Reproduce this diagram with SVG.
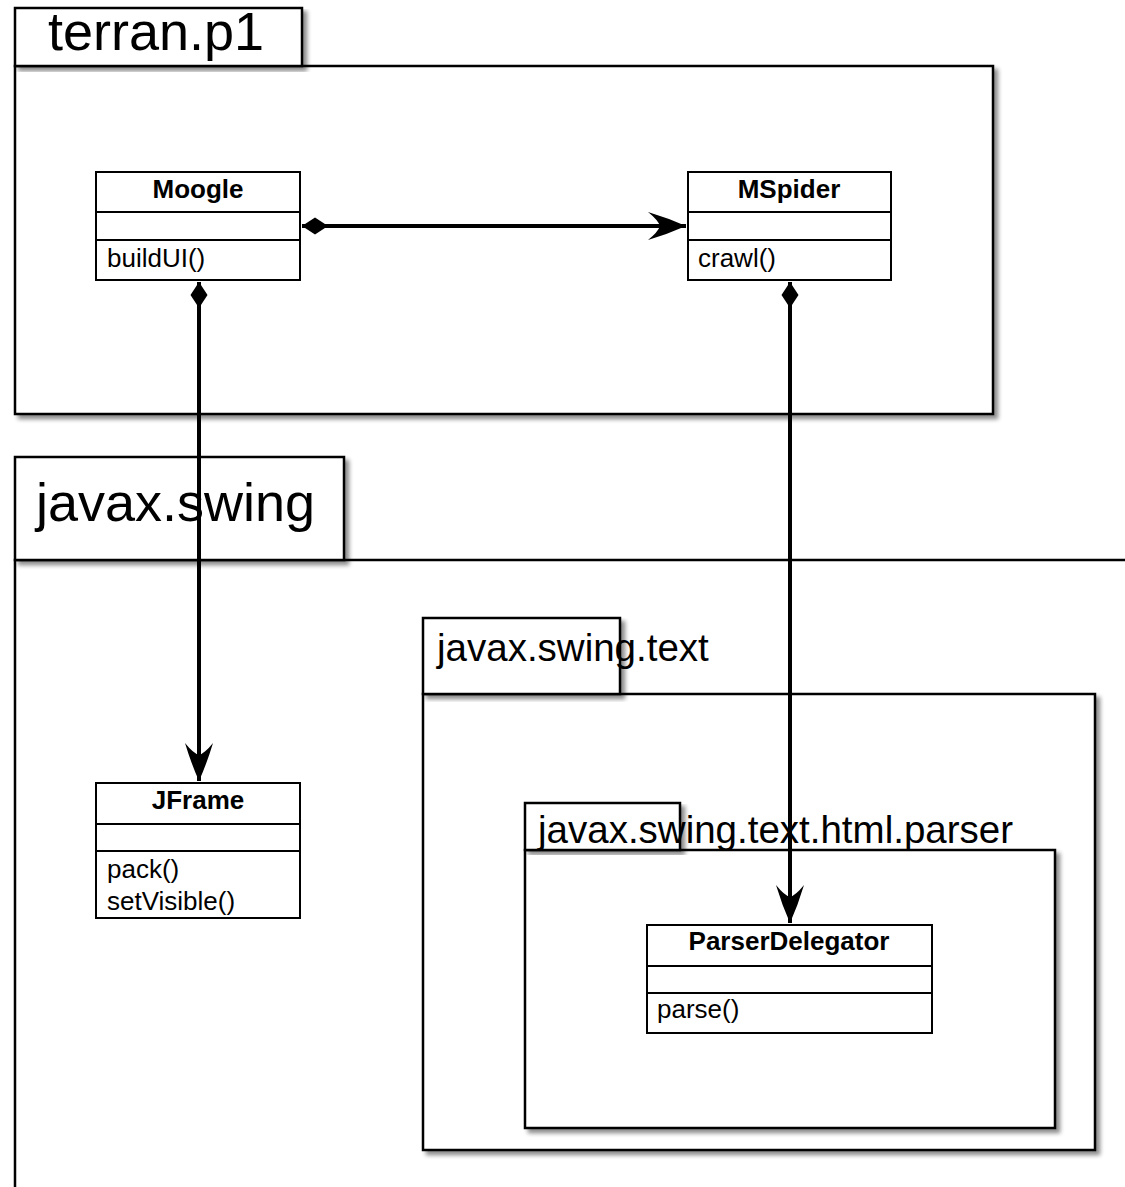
<svg xmlns="http://www.w3.org/2000/svg" width="1125" height="1187" viewBox="0 0 1125 1187">
<defs>
<style>
.pkg{fill:#fff;stroke:#000;stroke-width:2.5}
.cls{fill:#fff;stroke:#000;stroke-width:2}
.sep{stroke:#000;stroke-width:2}
.big{font-family:"Liberation Sans",Arial,sans-serif;font-size:54px;fill:#000}
.mid{font-family:"Liberation Sans",Arial,sans-serif;font-size:38.5px;fill:#000}
.name{font-family:"Liberation Sans",Arial,sans-serif;font-size:26px;font-weight:bold;fill:#000;text-anchor:middle}
.op{font-family:"Liberation Sans",Arial,sans-serif;font-size:26px;fill:#000}
.conn{fill:none;stroke:#000;stroke-width:4}
</style>
<filter id="sh" x="-5%" y="-5%" width="115%" height="115%">
<feGaussianBlur in="SourceAlpha" stdDeviation="2"/>
<feOffset dx="4" dy="4" result="b"/>
<feComponentTransfer><feFuncA type="linear" slope="0.45"/></feComponentTransfer>
<feMerge><feMergeNode/><feMergeNode in="SourceGraphic"/></feMerge>
</filter>
<marker id="dia" viewBox="-1 -10 30 20" refX="0" refY="0" markerWidth="30" markerHeight="20" markerUnits="userSpaceOnUse" orient="auto" overflow="visible">
<path d="M0,0 L13,-8.5 L26,0 L13,8.5 Z" fill="#000"/>
</marker>
<marker id="arr" viewBox="-40 -16 42 32" refX="0" refY="0" markerWidth="42" markerHeight="32" markerUnits="userSpaceOnUse" orient="auto" overflow="visible">
<path d="M0,0 Q-18,-8 -38,-14 Q-28,-6 -26,0 Q-28,6 -38,14 Q-18,8 0,0 Z" fill="#000"/>
</marker>
</defs>
<rect width="1125" height="1187" fill="#fff"/>

<g id="pkg-terran-p1">
<rect class="pkg" x="15" y="66" width="978" height="348" filter="url(#sh)"/>
<rect class="pkg" x="15" y="8" width="287" height="58" filter="url(#sh)"/>
<text class="big" x="48" y="50">terran.p1</text>
</g>

<g id="pkg-javax-swing">
<rect class="pkg" x="15" y="560" width="1200" height="700" filter="url(#sh)"/>
<rect class="pkg" x="15" y="457" width="329" height="103" filter="url(#sh)"/>
<text class="big" x="36" y="521">javax.swing</text>
</g>

<g id="pkg-javax-swing-text">
<rect class="pkg" x="423" y="694" width="672" height="456" filter="url(#sh)"/>
<rect class="pkg" x="423" y="618" width="197" height="76" filter="url(#sh)"/>
<text class="mid" x="437" y="661">javax.swing.text</text>
</g>

<g id="pkg-javax-swing-text-html-parser">
<rect class="pkg" x="525" y="850" width="530" height="278" filter="url(#sh)"/>
<rect class="pkg" x="525" y="803" width="155" height="47" filter="url(#sh)"/>
<text class="mid" x="538" y="843">javax.swing.text.html.parser</text>
</g>

<g id="cls-Moogle">
<rect class="cls" x="96" y="172" width="204" height="108"/>
<line class="sep" x1="96" y1="212" x2="300" y2="212"/>
<line class="sep" x1="96" y1="240" x2="300" y2="240"/>
<text class="name" x="198" y="198">Moogle</text>
<text class="op" x="107" y="267">buildUI()</text>
</g>

<g id="cls-MSpider">
<rect class="cls" x="688" y="172" width="203" height="108"/>
<line class="sep" x1="688" y1="212" x2="891" y2="212"/>
<line class="sep" x1="688" y1="240" x2="891" y2="240"/>
<text class="name" x="789" y="198">MSpider</text>
<text class="op" x="698" y="267">crawl()</text>
</g>

<g id="cls-JFrame">
<rect class="cls" x="96" y="783" width="204" height="135"/>
<line class="sep" x1="96" y1="824" x2="300" y2="824"/>
<line class="sep" x1="96" y1="851" x2="300" y2="851"/>
<text class="name" x="198" y="809">JFrame</text>
<text class="op" x="107" y="878">pack()</text>
<text class="op" x="107" y="910">setVisible()</text>
</g>

<g id="cls-ParserDelegator">
<rect class="cls" x="647" y="925" width="285" height="108"/>
<line class="sep" x1="647" y1="966" x2="932" y2="966"/>
<line class="sep" x1="647" y1="993" x2="932" y2="993"/>
<text class="name" x="789" y="950">ParserDelegator</text>
<text class="op" x="657" y="1018">parse()</text>
</g>

<g id="connectors">
<path class="conn" d="M302,226 L686,226" marker-start="url(#dia)" marker-end="url(#arr)"/>
<path class="conn" d="M199,282 L199,781" marker-start="url(#dia)" marker-end="url(#arr)"/>
<path class="conn" d="M790,282 L790,923" marker-start="url(#dia)" marker-end="url(#arr)"/>
</g>
</svg>
